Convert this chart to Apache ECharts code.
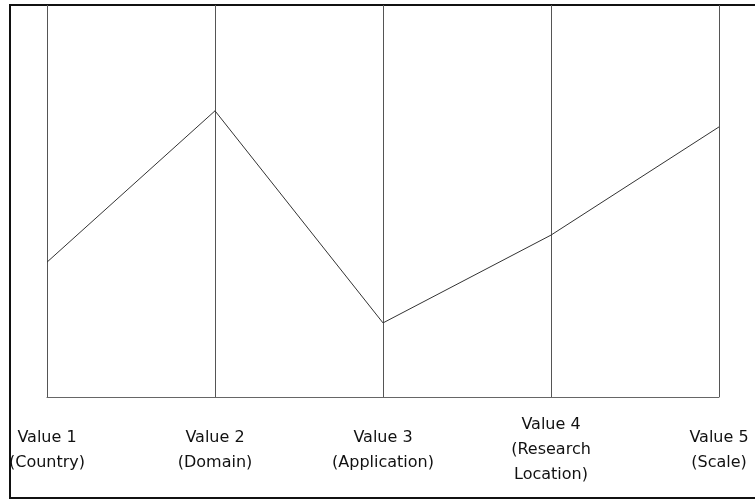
<!DOCTYPE html>
<html>
<head>
<meta charset="utf-8">
<script src="https://cdn.jsdelivr.net/npm/echarts@6/dist/echarts.min.js"></script>
<style>
    html, body { margin: 0; padding: 0; background: #fff; }
    #chart { width: 755px; height: 502px; }
</style>
</head>
<body>
<div id="chart"></div>
<script>
// categories along the bottom (two or three text lines each)
var categories = [
    'Value 1\n(Country)',
    'Value 2\n(Domain)',
    'Value 3\n(Application)',
    'Value 4\n(Research\nLocation)',
    'Value 5\n(Scale)'
];
// line values (0 = bottom line, 100 = top border)
var values = [34.4, 73.0, 18.9, 41.3, 68.9];

(function () {
    var myChart = echarts.init(document.getElementById('chart'));
    var option = {
        backgroundColor: '#fff',
        animation: false,
        grid: {
            left: 47,
            right: 36,
            top: 5,
            bottom: 105
        },
        graphic: [{
            // outer frame round plot and labels
            type: 'rect',
            shape: { x: 10, y: 5, width: 760, height: 493 },
            style: { fill: 'none', stroke: '#111', lineWidth: 2 },
            silent: true
        }],
        xAxis: {
            type: 'category',
            boundaryGap: false,
            data: categories,
            axisLine: { show: true, lineStyle: { color: '#666', width: 1 } },
            axisTick: { show: false },
            splitLine: { show: true, lineStyle: { color: '#555', width: 1 } },
            axisLabel: {
                interval: 0,
                color: '#111',
                fontFamily: 'DejaVu Sans',
                fontSize: 16,
                lineHeight: 25,
                align: 'center',
                verticalAlign: 'middle',
                margin: 53
            }
        },
        yAxis: {
            type: 'value',
            min: 0,
            max: 100,
            show: false,
            splitLine: { show: false }
        },
        series: [{
            type: 'line',
            data: values,
            symbol: 'none',
            lineStyle: { color: '#333', width: 1 }
        }]
    };
    myChart.setOption(option);
})();
</script>
</body>
</html>
